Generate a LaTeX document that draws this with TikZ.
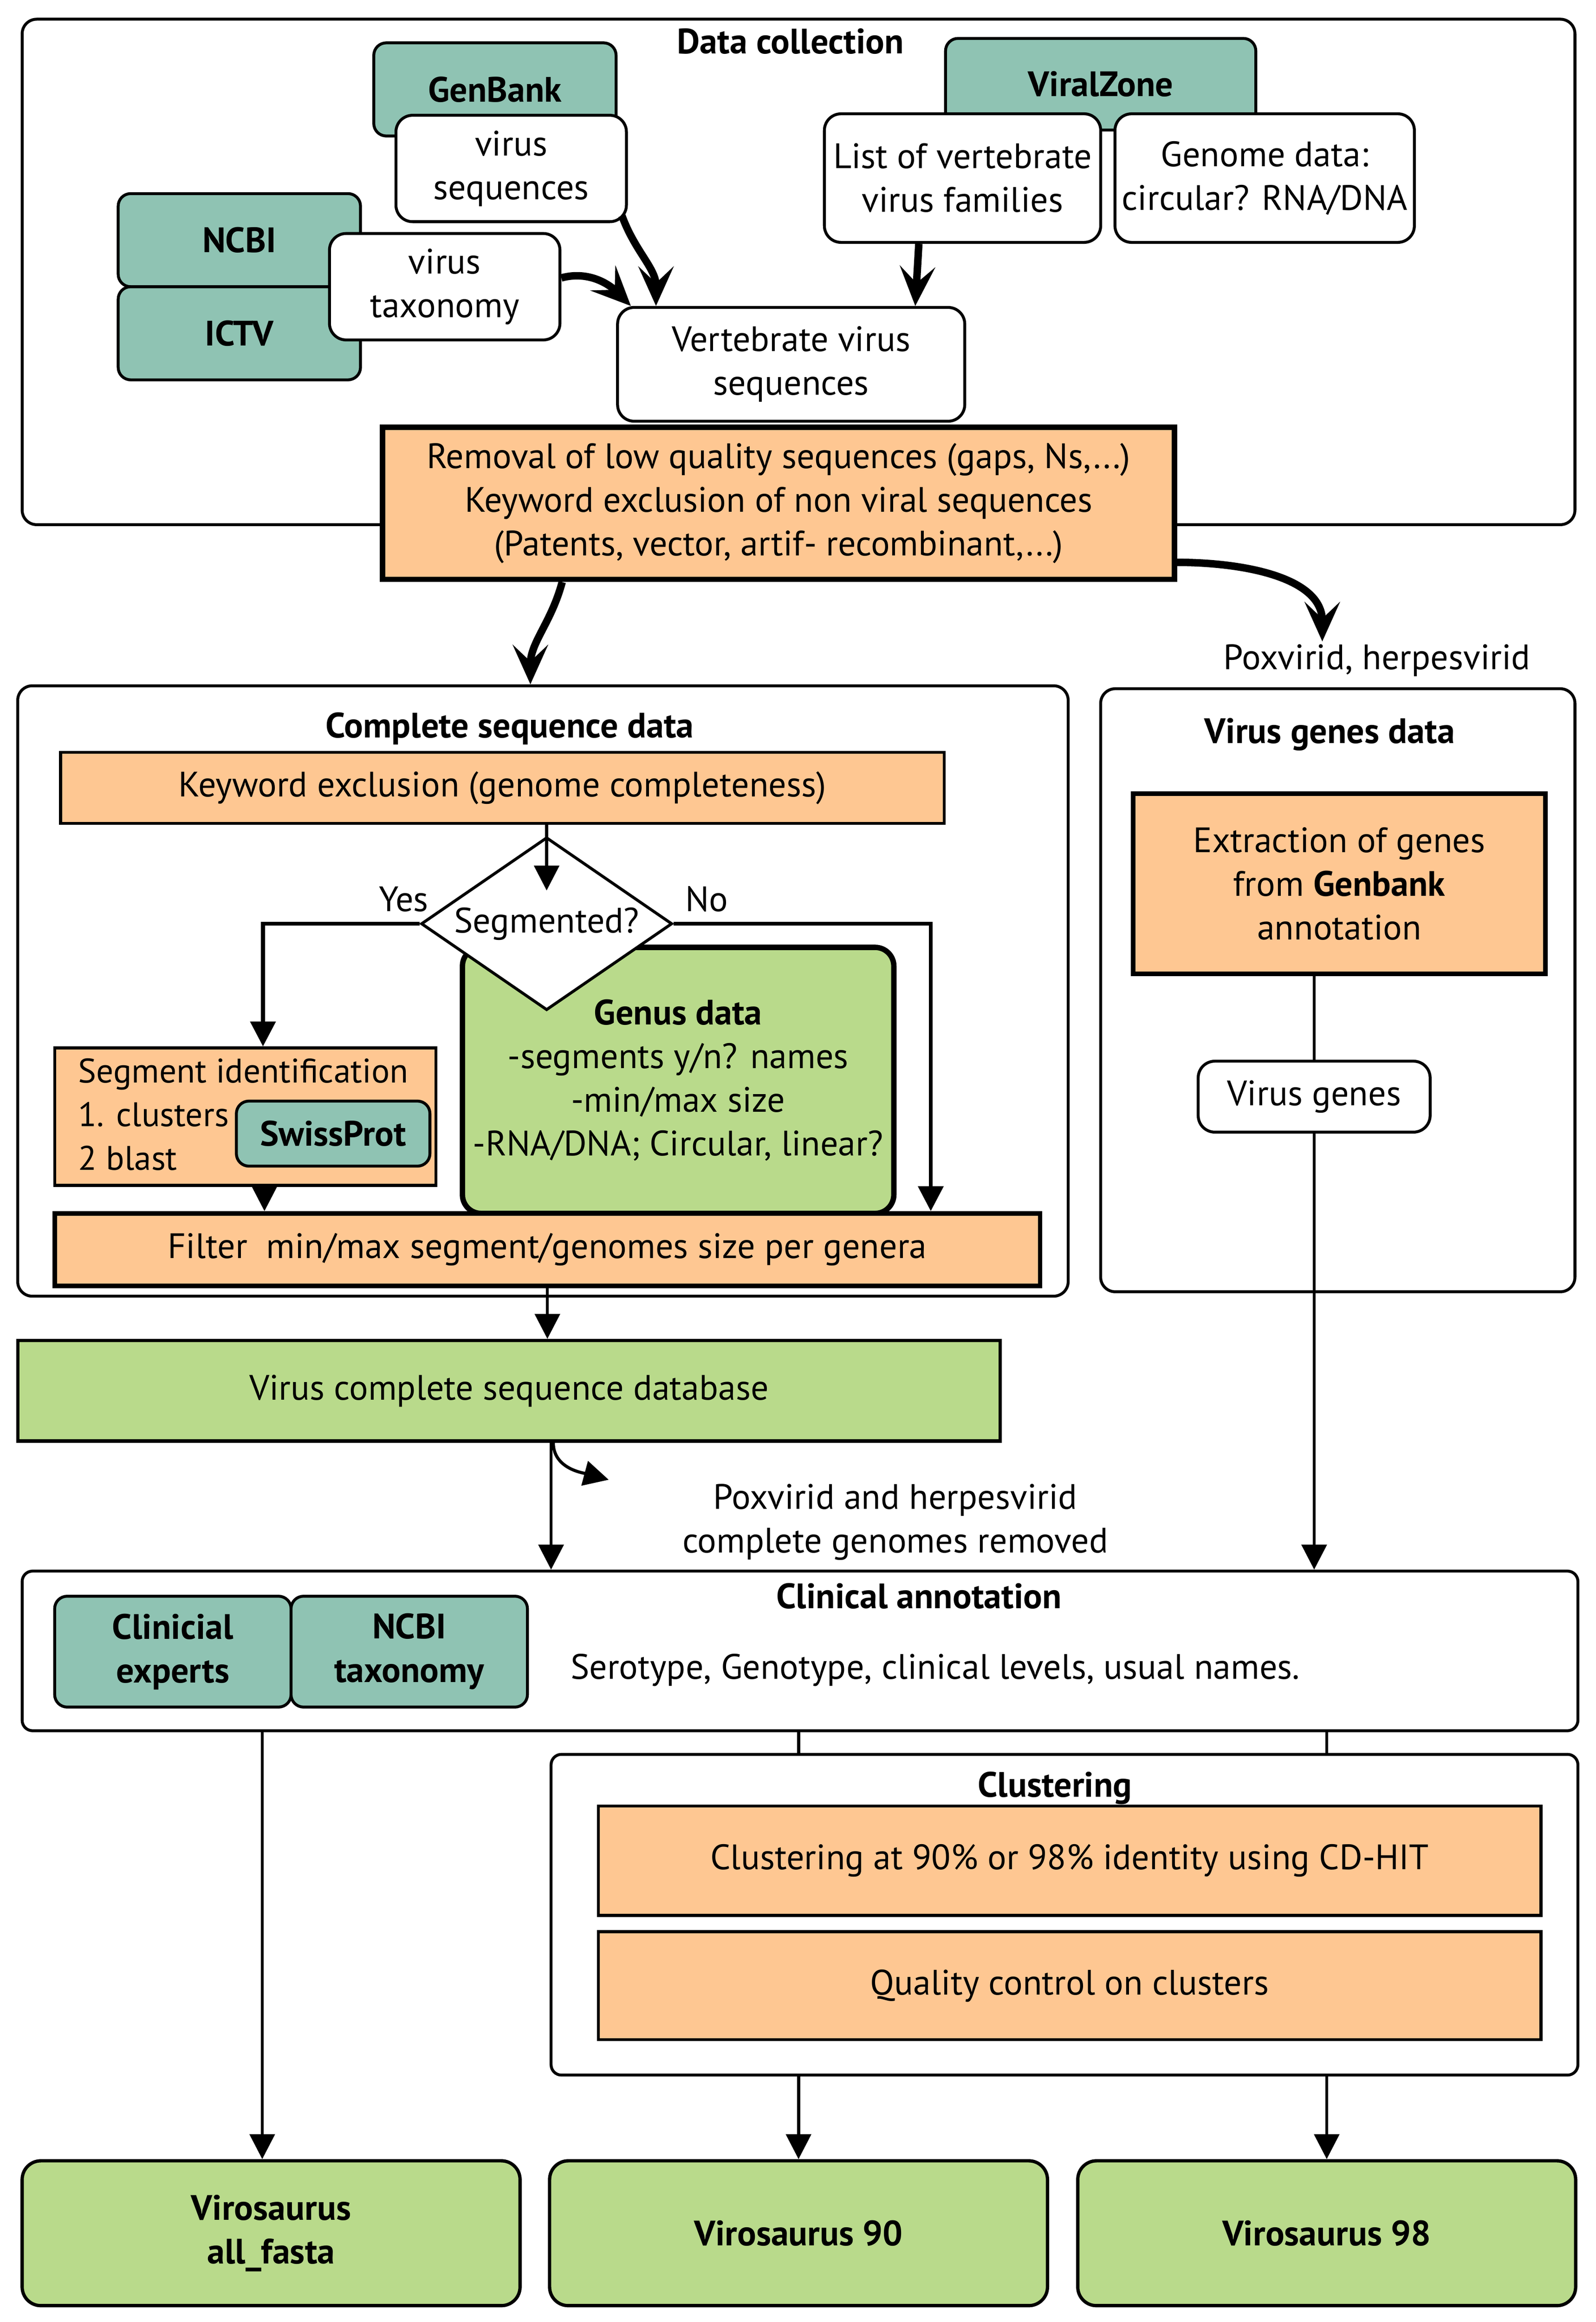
\documentclass[tikz,border=0pt]{standalone}
\usepackage{fontspec}
\setmainfont{PT Sans}
\usetikzlibrary{arrows.meta,positioning,shapes.geometric}
\definecolor{tealbox}{RGB}{143,195,179}
\definecolor{orangebox}{RGB}{254,199,146}
\definecolor{greenbox}{RGB}{185,218,139}
\newcommand{\flowfont}{\fontsize{17}{21}\selectfont}
\tikzset{%
	frame/.style    = {draw, rounded corners=7pt, line width=1.4pt}, % section frame
	source/.style   = {draw, fill=tealbox, rounded corners=6pt, line width=1.4pt, font=\flowfont\bfseries, align=center}, % data source
	item/.style     = {draw, fill=white, rounded corners=8pt, line width=1.4pt, align=center}, % data item
	task/.style     = {draw, fill=orangebox, line width=1.4pt, align=center}, % processing step
	result/.style   = {draw, fill=greenbox, line width=1.6pt, align=center}, % database
	decision/.style = {draw, fill=white, diamond, aspect=1.45, inner sep=0pt, line width=1.4pt}, % question
	title/.style    = {font=\flowfont\bfseries}, % frame title
	bigarrow/.style = {line width=3.6pt, -{Stealth[length=19pt,width=17pt,inset=8pt]}},
	flow/.style     = {line width=1.5pt, -{Triangle[length=12pt,width=12pt]}},
	link/.style     = {line width=1.5pt},
}

\begin{document}
\begin{tikzpicture}[font=\flowfont]
		\useasboundingbox (0,0) rectangle (27,-39.277);
		% data collection
		\node[frame, minimum width=26.275cm, minimum height=8.55cm] (dc) at (13.5125,-4.6) {};
		\node[title] (tdc) at (13.375,-0.7) {Data collection};
		\node[source, minimum width=4.1cm, minimum height=1.575cm] (genbank) at (8.375,-1.5125) {GenBank};
		\node[source, minimum width=4.1cm, minimum height=1.575cm] (ncbi) at (4.05,-4.0625) {NCBI};
		\node[source, minimum width=4.1cm, minimum height=1.575cm] (ictv) at (4.05,-5.6375) {ICTV};
		\node[source, minimum width=5.25cm, minimum height=1.55cm] (viralzone) at (18.625,-1.425) {ViralZone};
		\node[item, minimum width=3.9cm, minimum height=1.8cm] (vseq) at (8.65,-2.85) {virus\\sequences};
		\node[item, minimum width=3.9cm, minimum height=1.8cm] (vtax) at (7.525,-4.85) {virus\\taxonomy};
		\node[item, minimum width=4.675cm, minimum height=2.175cm] (vlist) at (16.2875,-3.0125) {List of vertebrate\\virus families};
		\node[item, minimum width=5cm, minimum height=2.175cm] (gdata) at (21.4,-3.0125) {Genome data:\\circular? RNA/DNA};
		\node[item, minimum width=5.875cm, minimum height=1.925cm] (vvseq) at (13.3875,-6.1625) {Vertebrate virus\\sequences};
		\node[task, line width=2.6pt, minimum width=13.4cm, minimum height=2.575cm] (removal) at (13.175,-8.5125) {Removal of low quality sequences (gaps, Ns,...)\\Keyword exclusion of non viral sequences\\(Patents, vector, artif- recombinant,...)};
		\draw[bigarrow] ([shift={(-0.1cm,0.125cm)}]vseq.south east) to[out=-70,in=90] ([xshift=0.675cm]vvseq.north west);
		\draw[bigarrow] ([yshift=0.15cm]vtax.east) to[out=15,in=135] ([xshift=0.25cm]vvseq.north west);
		\draw[bigarrow] ([xshift=-0.74cm]vlist.south) -- ([xshift=2.1cm]vvseq.north);
		% complete sequence data
		\node[frame, minimum width=17.775cm, minimum height=10.325cm] (csd) at (9.1875,-16.7625) {};
		\node[title] (tcsd) at (8.625,-12.325) {Complete sequence data};
		\node[task, minimum width=14.95cm, minimum height=1.2cm] (kwex) at (8.5,-13.325) {Keyword exclusion (genome completeness)};
		\node[result, rounded corners=9pt, line width=2.6pt, minimum width=7.3cm, minimum height=4.5cm] (genus) at (11.475,-18.275) {\textbf{Genus data}\\-segments y/n? names\\-min/max size\\-RNA/DNA; Circular, linear?};
		\node[decision, minimum width=4.25cm, minimum height=2.925cm] (seg) at (9.25,-15.625) {Segmented?};
		\node[task, minimum width=6.45cm, minimum height=2.325cm] (segid) at (4.15,-18.8875) {};
		\node[anchor=north west, align=left, inner sep=0pt, font=\fontsize{16.4}{21}\selectfont] (tsegid) at ([shift={(0.42cm,-0.2cm)}]segid.north west) {Segment identification\\1. clusters\\2 blast};
		\node[source, minimum width=3.275cm, minimum height=1.1cm] (swiss) at (5.6375,-19.175) {SwissProt};
		\node[task, line width=2.2pt, minimum width=16.675cm, minimum height=1.225cm] (filter) at (9.2625,-21.1375) {Filter\ \ min/max segment/genomes size per genera};
		\draw[flow] (seg.north |- kwex.south) -- ([yshift=-0.925cm]seg.north);
		\draw[flow, line width=1.9pt] (seg.west) node[anchor=south east, xshift=0.3cm, yshift=0.05cm] (yes) {Yes} -| ([xshift=0.3cm]segid.north);
		\draw[flow, line width=1.9pt] (seg.east) node[anchor=south west, xshift=0.05cm, yshift=0.05cm] (no) {No} -| ([xshift=6.4875cm]filter.north);
		\draw[flow] ([xshift=0.325cm]segid.south) -- ([xshift=0.325cm]segid.south |- filter.north);
		% virus genes data
		\node (poxlabel) at (23.3,-11.175) {Poxvirid, herpesvirid};
		\coordinate (pox) at (22.375,-10.85);
		\draw[bigarrow] ([xshift=-3.6625cm]removal.south) to[out=-105,in=90] ([xshift=-0.2125cm]csd.north);
		\draw[bigarrow] ([yshift=-1cm]removal.east) to[out=0,in=90] (pox);
		\node[frame, minimum width=8.025cm, minimum height=10.2cm] (vgd) at (22.6375,-16.75) {};
		\node[title] (tvgd) at (22.5,-12.425) {Virus genes data};
		\node[task, line width=2.2pt, minimum width=6.975cm, minimum height=3.05cm] (extr) at (22.6625,-14.95) {Extraction of genes\\from \textbf{Genbank}\\annotation};
		\node[item, minimum width=3.925cm, minimum height=1.2cm] (vgenes) at (22.2375,-18.55) {Virus genes};
		\draw[link] (vgenes.north |- extr.south) -- (vgenes.north);
		% database and clinical annotation
		\node[result, minimum width=16.625cm, minimum height=1.7cm] (vcdb) at (8.6125,-23.525) {Virus complete sequence database};
		\draw[flow] (filter.south) -- (filter.south |- vcdb.north);
		\node[frame, rounded corners=5pt, minimum width=26.325cm, minimum height=2.7cm] (clin) at (13.5375,-27.925) {};
		\node[title] (tclin) at (15.55,-27.0) {Clinical annotation};
		\node[source, minimum width=4cm, minimum height=1.875cm] (clinexp) at (2.925,-27.9375) {Clinicial\\experts};
		\node[source, minimum width=4cm, minimum height=1.875cm] (ncbitax) at (6.925,-27.9375) {NCBI\\taxonomy};
		\node (sero) at (15.825,-28.25) {Serotype, Genotype, clinical levels, usual names.};
		\node[align=center] (rmtext) at (15.15,-25.75) {Poxvirid and herpesvirid\\complete genomes removed};
		\coordinate (rm) at (10.3,-25.03);
		\draw[flow] ([xshift=0.7125cm]vcdb.south) -- ([xshift=0.7125cm]vcdb.south |- clin.north);
		\draw[flow] ([xshift=0.75cm]vcdb.south) to[out=-90,in=165] (rm);
		\draw[flow] (vgenes.south) -- (vgenes.south |- clin.north);
		% clustering and outputs
		\node[frame, rounded corners=5pt, minimum width=17.375cm, minimum height=5.425cm] (clus) at (18.0125,-32.3875) {};
		\node[title] (tclus) at (17.85,-30.25) {Clustering};
		\node[task, minimum width=15.95cm, minimum height=1.85cm] (cdhit) at (18.1,-31.475) {Clustering at 90\% or 98\% identity using CD-HIT};
		\node[task, minimum width=15.95cm, minimum height=1.825cm] (qc) at (18.1,-33.5875) {Quality control on clusters};
		\node[result, rounded corners=9pt, font=\flowfont\bfseries, minimum width=8.425cm, minimum height=2.45cm] (vsall) at (4.5875,-37.775) {Virosaurus\\all\_fasta};
		\node[result, rounded corners=9pt, font=\flowfont\bfseries, minimum width=8.425cm, minimum height=2.45cm] (vs90) at (13.5125,-37.775) {Virosaurus 90};
		\node[result, rounded corners=9pt, font=\flowfont\bfseries, minimum width=8.425cm, minimum height=2.45cm] (vs98) at (22.45,-37.775) {Virosaurus 98};
		\draw[flow] ([xshift=-0.15cm]vsall.north |- clin.south) -- ([xshift=-0.15cm]vsall.north);
		\draw[link] (vs90.north |- clin.south) -- (vs90.north |- clus.north);
		\draw[link] (vs98.north |- clin.south) -- (vs98.north |- clus.north);
		\draw[flow] (vs90.north |- clus.south) -- (vs90.north);
		\draw[flow] (vs98.north |- clus.south) -- (vs98.north);
\end{tikzpicture}
\end{document}
